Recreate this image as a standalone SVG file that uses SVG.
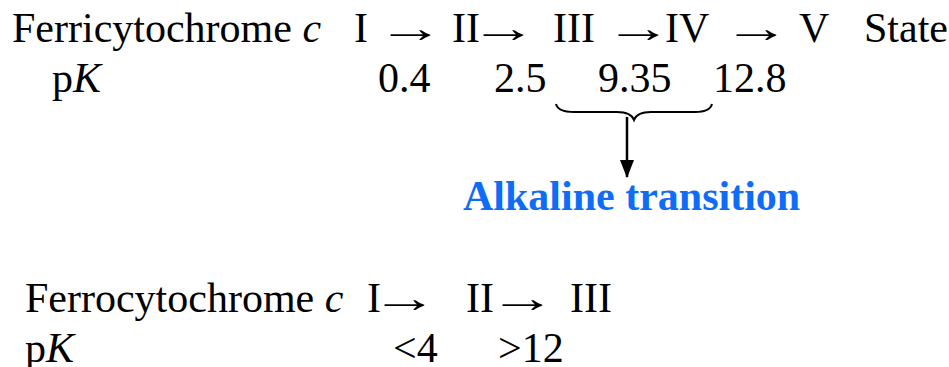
<svg xmlns="http://www.w3.org/2000/svg" width="949" height="367" viewBox="0 0 949 367">
<style>
text{font-family:"Liberation Serif","Times New Roman",serif;font-size:42px;fill:#000}
.b{font-weight:bold;fill:#0f6cf7}
.i{font-style:italic}
.ar{text-anchor:middle}
</style>
<defs><marker id="ah" markerWidth="18" markerHeight="14" refX="17" refY="7" orient="auto" markerUnits="userSpaceOnUse"><path d="M0,0 L18,7 L0,14 Z" fill="#000"/></marker></defs>
<rect width="949" height="367" fill="#fff"/>
<g id="ferri">
<text x="12" y="42">Ferricytochrome <tspan class="i">c</tspan></text>
<text x="354" y="42">I</text>
<text class="ar" transform="translate(410,42) scale(1.6,1)">→</text>
<text x="452" y="42">II</text>
<text class="ar" transform="translate(503,42) scale(1.6,1)">→</text>
<text x="553" y="42">III</text>
<text class="ar" transform="translate(638,42) scale(1.6,1)">→</text>
<text x="665" y="42">IV</text>
<text class="ar" transform="translate(756,42) scale(1.6,1)">→</text>
<text x="799" y="42">V</text>
<text x="864" y="42">State</text>
</g>
<g id="ferri-pk">
<text x="52" y="92">p<tspan class="i">K</tspan></text>
<text x="378" y="92">0.4</text>
<text x="494" y="92">2.5</text>
<text x="598" y="92">9.35</text>
<text x="713" y="92">12.8</text>
</g>
<g id="connectors">
<path d="M556,104 Q558,112 574,112 L617,112 Q631,112 634,120 Q637,112 651,112 L695,112 Q710,112 712,104" fill="none" stroke="#000" stroke-width="2"/>
<line x1="627" y1="117" x2="627" y2="177" stroke="#000" stroke-width="2.5" marker-end="url(#ah)"/>
</g>
<g id="alkaline">
<text class="b" x="463" y="210">Alkaline transition</text>
</g>
<g id="ferro">
<text x="25" y="312">Ferrocytochrome <tspan class="i">c</tspan></text>
<text x="367" y="312">I</text>
<text class="ar" transform="translate(404,312) scale(1.6,1)">→</text>
<text x="466" y="312">II</text>
<text class="ar" transform="translate(522,312) scale(1.6,1)">→</text>
<text x="570" y="312">III</text>
</g>
<g id="ferro-pk">
<text x="25" y="362">p<tspan class="i">K</tspan></text>
<text x="393" y="362">&lt;4</text>
<text x="498" y="362">&gt;12</text>
</g>
</svg>
